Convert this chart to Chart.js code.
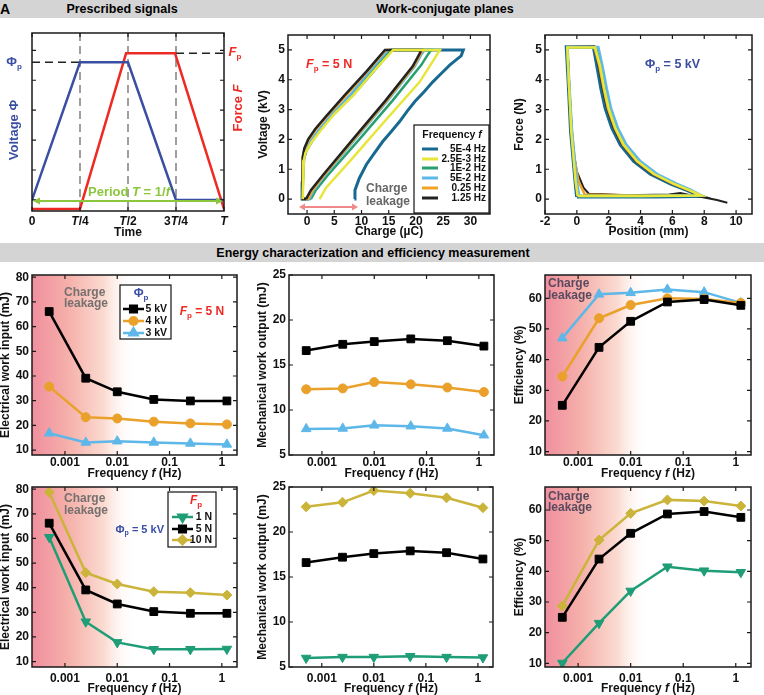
<!DOCTYPE html>
<html lang="en">
<head>
<meta charset="utf-8">
<title>Work-conjugate planes and efficiency</title>
<script src="https://cdn.jsdelivr.net/npm/chart.js@4.4.1/dist/chart.umd.min.js"></script>
<style>
  body { margin: 0; width: 764px; height: 695px; position: relative; overflow: hidden; background: #fff;
         font-family: "Liberation Sans", Arial, sans-serif; }
  .bar { position: absolute; left: 0; width: 764px; background: #d4d4d4; font-weight: bold; font-size: 12.5px; }
  .bar span { position: absolute; top: 50%; transform: translate(-50%, -50%); white-space: nowrap; }
  .tag { position: absolute; left: 0; top: 1px; font: bold 14px "Liberation Sans", Arial, sans-serif; }
  canvas { position: absolute; }
</style>
</head>
<body>
<div class="bar" style="top:0;height:18px"><span style="left:122px">Prescribed signals</span><span style="left:445px">Work-conjugate planes</span></div>
<div class="tag">A</div>
<div class="bar" style="top:243px;height:19px"><span style="left:373px">Energy characterization and efficiency measurement</span></div>
<script>
// ---------- data ----------
// A: prescribed signals over one period (time in units of T, amplitude in tick steps)
const sigTime = [0, 0.25, 0.5, 0.75, 1];
const voltageSig = [0.0, 4.6, 4.6, 0.0, 0.0];
const forceTime = [0, 0.25, 0.49, 0.745, 1];
const forceSig = [-0.3, -0.3, 4.9, 4.9, -0.3];
const timeTicks = [0, 0.25, 0.5, 0.75, 1];
const timeLabels = [[['0', '']], [['T', 'i'], ['/4', '']], [['T', 'i'], ['/2', '']], [['3', ''], ['T', 'i'], ['/4', '']], [['T', 'i']]];

// B: charge (uC) vs voltage (kV), Fp = 5 N
const freqNames = ['5E-4 Hz', '2.5E-3 Hz', '1E-2 Hz', '5E-2 Hz', '0.25 Hz', '1.25 Hz'];
const freqColors = ['#17698f', '#e8e63a', '#27a06e', '#5cb8e9', '#f2a227', '#222222'];
const qv_5e4 = [[8.7,0],[8.8,0.3],[9.6,0.7],[10.9,1.16],[12.4,1.55],[13.9,1.93],[15.4,2.25],[17.0,2.6],[18.4,2.95],[19.8,3.27],[21.5,3.6],[23.1,3.93],[24.6,4.2],[26.2,4.49],[27.6,4.7],[28.3,4.8],[28.7,5.0],[15.6,5.0],[12.1,4.27],[8.4,3.49],[4.7,2.82],[2.2,2.3],[0.9,1.95],[-0.2,1.6],[-0.6,1.35],[-0.8,0.6],[-0.9,0],[0.3,0]];
const qv_25e3 = [[2.3,0],[3.5,0.38],[8.4,1.38],[14.5,2.66],[20.7,3.93],[23.4,4.71],[24.4,5.0],[15.8,5.0],[12.3,4.3],[8.6,3.5],[5.0,2.85],[2.5,2.3],[0.8,1.9],[-0.3,1.55],[-0.6,1.3],[-0.7,0.5],[-0.8,0]];
const qv_1e2 = [[0.7,0],[1.6,0.3],[3.8,0.8],[9.6,2.0],[15.7,3.3],[21.0,4.5],[22.2,4.85],[22.8,5.0],[15.2,5.0],[11.8,4.3],[8.3,3.5],[4.6,2.82],[2.1,2.25],[0.6,1.9],[-0.4,1.55],[-0.7,1.3],[-0.8,0.5],[-0.9,0],[0.7,0]];
const qv_5e2 = [[0.4,0],[1.2,0.3],[3.3,0.8],[8.8,2.0],[14.8,3.3],[19.8,4.45],[21.0,4.85],[21.6,5.0],[14.9,5.0],[11.6,4.3],[8.0,3.5],[4.4,2.82],[1.9,2.25],[0.5,1.9],[-0.4,1.55],[-0.7,1.3],[-0.8,0.5],[-0.9,0],[0.4,0]];
const qv_025 = [[0.2,0],[1.0,0.3],[3.1,0.8],[8.6,2.0],[14.6,3.3],[19.6,4.45],[20.8,4.85],[21.3,5.0],[14.5,5.0],[11.2,4.3],[7.3,3.5],[3.8,2.8],[1.6,2.33],[0.3,1.98],[-0.5,1.68],[-0.8,1.4],[-0.8,0.5],[-0.8,0],[0.2,0]];
const qv_125 = [[-0.2,0],[0.7,0.3],[2.9,0.8],[8.4,2.0],[14.4,3.3],[19.4,4.45],[20.6,4.85],[21.0,5.0],[14.3,5.0],[11.0,4.3],[7.0,3.5],[3.6,2.8],[1.5,2.35],[0.2,2.0],[-0.5,1.7],[-0.8,1.4],[-0.8,0.6],[-0.8,0],[-0.2,0]];

// C: position (mm) vs force (N), Phi_p = 5 kV
const fx_5e4 = [[0.0,0.08],[-0.1,0.6],[-0.38,2.27],[-0.53,3.93],[-0.65,5.1],[1.05,5.1],[1.26,4.49],[1.52,3.71],[1.79,3.04],[2.21,2.38],[2.74,1.82],[3.58,1.27],[4.63,0.84],[5.9,0.51],[6.95,0.29],[7.8,0.1],[5.0,0.08],[2.0,0.08],[0.0,0.08]];
const fx_25e3 = [[0.05,0.1],[-0.08,0.6],[-0.35,2.27],[-0.5,3.93],[-0.6,5.08],[1.15,5.08],[1.45,4.49],[1.72,3.71],[2.0,3.04],[2.42,2.38],[2.95,1.82],[3.8,1.27],[4.85,0.84],[6.1,0.51],[7.1,0.29],[7.8,0.12],[4.0,0.1],[0.05,0.1]];
const fx_1e2 = [[0.1,0.1],[-0.05,0.6],[-0.33,2.27],[-0.5,3.93],[-0.6,5.08],[1.2,5.08],[1.52,4.49],[1.8,3.71],[2.07,3.04],[2.5,2.38],[3.03,1.82],[3.9,1.27],[4.95,0.84],[6.2,0.51],[7.15,0.29],[7.8,0.12],[4.0,0.1],[0.1,0.1]];
const fx_5e2 = [[0.15,0.1],[0.0,0.6],[-0.3,2.27],[-0.48,3.93],[-0.58,5.1],[1.35,5.1],[1.6,4.49],[1.88,3.71],[2.15,3.04],[2.58,2.38],[3.12,1.82],[4.0,1.27],[5.05,0.84],[6.3,0.51],[7.2,0.3],[7.8,0.12],[4.0,0.1],[0.15,0.1]];
const fx_025 = [[0.5,0.15],[0.1,0.6],[-0.15,1.4],[-0.35,2.5],[-0.5,3.9],[-0.6,5.1],[1.1,5.1],[1.4,4.49],[1.68,3.71],[1.95,3.04],[2.38,2.38],[2.9,1.82],[3.75,1.27],[4.8,0.84],[6.05,0.51],[7.05,0.29],[7.8,0.12],[4.0,0.12],[0.5,0.15]];
const fx_125 = [[9.45,-0.12],[8.8,-0.03],[8.0,0.05],[7.0,0.15],[6.5,0.2],[5.8,0.15],[3.0,0.13],[1.5,0.17],[0.75,0.18],[0.42,0.38],[0.0,0.93],[-0.25,1.71],[-0.42,2.82],[-0.53,4.49],[-0.6,5.1],[1.1,5.12],[1.35,4.49],[1.62,3.71],[1.9,3.04],[2.32,2.38],[2.85,1.82],[3.7,1.27],[4.75,0.84],[6.0,0.51],[7.0,0.29],[7.8,0.1],[8.4,0.02]];

// D-I: energies vs driving frequency
const freqs = [5e-4, 2.5e-3, 1e-2, 5e-2, 0.25, 1.25];
const freqTicks = [0.001, 0.01, 0.1, 1];
const freqLabels = ['0.001', '0.01', '0.1', '1'];

// Fp = 5 N, peak voltage varied
const elecIn_5kV = [66.1, 39.1, 33.6, 30.5, 29.9, 29.9];
const elecIn_4kV = [35.7, 23.3, 22.8, 21.5, 20.8, 20.4];
const elecIn_3kV = [16.8, 13.1, 13.6, 13.1, 12.7, 12.3];
const mechOut_5kV = [16.6, 17.3, 17.6, 17.9, 17.7, 17.1];
const mechOut_4kV = [12.3, 12.4, 13.1, 12.85, 12.5, 12.0];
const mechOut_3kV = [7.9, 7.95, 8.3, 8.2, 7.95, 7.2];
const eff_5kV = [25.1, 44.0, 52.5, 58.8, 59.6, 57.7];
const eff_4kV = [34.5, 53.5, 57.8, 60.0, 59.8, 58.5];
const eff_3kV = [47.0, 61.3, 61.8, 62.9, 62.0, 58.5];

// Phi_p = 5 kV, peak force varied
const elecIn_1N = [60.5, 26.2, 17.8, 15.0, 15.0, 15.1];
const elecIn_5N = [66.2, 39.1, 33.4, 30.3, 29.6, 29.6];
const elecIn_10N = [78.8, 46.1, 41.5, 38.4, 38.0, 37.0];
const mechOut_1N = [6.0, 6.1, 6.1, 6.2, 6.1, 6.05];
const mechOut_5N = [16.6, 17.2, 17.6, 17.9, 17.7, 17.0];
const mechOut_10N = [22.8, 23.3, 24.6, 24.3, 23.8, 22.7];
const eff_1N = [10.1, 23.1, 33.6, 41.5, 40.2, 39.7];
const eff_5N = [25.0, 44.0, 52.4, 58.7, 59.5, 57.6];
const eff_10N = [28.7, 50.2, 58.9, 63.3, 62.9, 61.3];

// ---------- styles ----------
const FONT = '"Liberation Sans", Arial, Helvetica, sans-serif';
const BLUE = '#3a4ea2', RED = '#ee2a24', GREEN = '#8cc63f';
const ST = {
  kv5: { color: '#000000', shape: 'rect', r: 5.5 },
  kv4: { color: '#eaa12b', shape: 'circle', r: 4.5 },
  kv3: { color: '#5db7e8', shape: 'triangle', r: 5.5 },
  n1: { color: '#1f9d76', shape: 'triangle', rot: 180, r: 5.5 },
  n5: { color: '#000000', shape: 'rect', r: 5.5 },
  n10: { color: '#cbb43a', shape: 'rectRot', r: 5 }
};
const LOG_MIN = Math.pow(10, -3.63), LOG_MAX = Math.pow(10, 0.29);
const LEAK_END = 0.022;

// ---------- helpers ----------
function rich(c, parts, x, y, o) {
  o = o || {};
  const size = o.size || 12;
  const fontOf = f => (f.includes('i') ? 'italic ' : '') + 'bold ' + (f.includes('s') ? Math.round(size * 0.65) : size) + 'px ' + FONT;
  let w = 0;
  parts.forEach(p => { c.font = fontOf(p[1] || ''); w += c.measureText(p[0]).width; });
  c.save();
  c.translate(x, y);
  if (o.rot) c.rotate(o.rot);
  let cx = o.align === 'right' ? -w : o.align === 'left' ? 0 : -w / 2;
  c.fillStyle = o.color || '#111';
  c.textAlign = 'left';
  c.textBaseline = 'middle';
  parts.forEach(p => {
    const f = p[1] || '';
    c.font = fontOf(f);
    c.fillText(p[0], cx, f.includes('s') ? size * 0.32 : 0);
    cx += c.measureText(p[0]).width;
  });
  c.restore();
}
const asParts = l => (typeof l === 'string' ? [[l, '']] : l);

function seriesDs(vals, st) {
  return {
    data: freqs.map((f, i) => ({ x: f, y: vals[i] })),
    borderColor: st.color, backgroundColor: st.color,
    pointBackgroundColor: st.color, pointBorderColor: st.color, pointBorderWidth: 1,
    pointStyle: st.shape, pointRotation: st.rot || 0, pointRadius: st.r, borderWidth: 2.5
  };
}
function curveDs(pts, color, w, order) {
  return { data: pts.map(p => ({ x: p[0], y: p[1] })), borderColor: color, borderWidth: w, pointRadius: 0, order: order };
}

function leakage(c, P) {
  const x1 = P.X(LEAK_END);
  const g = c.createLinearGradient(P.l, 0, x1, 0);
  g.addColorStop(0, '#f08f9e');
  g.addColorStop(0.35, '#f5b0aa');
  g.addColorStop(0.7, '#fbdbd1');
  g.addColorStop(1, 'rgba(255,255,255,0)');
  c.fillStyle = g;
  c.fillRect(P.l, P.t, x1 - P.l, P.b - P.t);
}
function leakText(c, x, y1, y2, color) {
  rich(c, [['Charge', '']], x, y1, { size: 12, align: 'left', color: color });
  rich(c, [['leakage', '']], x, y2, { size: 12, align: 'left', color: color });
}

function drawLegend(c, L) {
  const [x1, y1, x2, y2] = L.box;
  c.save();
  c.fillStyle = '#fff';
  c.fillRect(x1, y1, x2 - x1, y2 - y1);
  c.strokeStyle = '#111';
  c.lineWidth = 1.2;
  c.strokeRect(x1, y1, x2 - x1, y2 - y1);
  rich(c, L.title, L.titleX, L.titleY, { size: L.titleSize, color: L.titleColor });
  L.rows.forEach(r => {
    c.strokeStyle = r.color;
    c.lineWidth = L.lw;
    c.beginPath();
    c.moveTo(L.lineX[0], r.y);
    c.lineTo(L.lineX[1], r.y);
    c.stroke();
    if (r.st) {
      c.fillStyle = r.color;
      Chart.helpers.drawPoint(c, { pointStyle: r.st.shape, radius: r.st.r * 0.85, rotation: r.st.rot || 0, borderWidth: 1 },
        (L.lineX[0] + L.lineX[1]) / 2, r.y);
    }
    rich(c, [[r.label, '']], L.labelX, r.y, { size: L.size, align: 'right' });
  });
  c.restore();
}

function drawAxes(c, P, p) {
  c.save();
  c.strokeStyle = '#1a1a1a';
  c.lineWidth = 1.2;
  c.beginPath();
  p.xTicks.forEach(v => { const x = P.X(v); c.moveTo(x, P.b); c.lineTo(x, P.b - 4); c.moveTo(x, P.t); c.lineTo(x, P.t + 4); });
  p.yTicks.forEach(v => { const y = P.Y(v); c.moveTo(P.l, y); c.lineTo(P.l + 4, y); c.moveTo(P.r, y); c.lineTo(P.r - 4, y); });
  c.stroke();
  c.lineWidth = 1.5;
  c.strokeRect(P.l, P.t, P.r - P.l, P.b - P.t);
  c.restore();
  if (p.xLabels) p.xTicks.forEach((v, i) => rich(c, asParts(p.xLabels[i]), P.X(v), p.xLabelY, { size: 12 }));
  if (p.yLabels) p.yTicks.forEach((v, i) => rich(c, asParts(p.yLabels[i]), P.l - 3, P.Y(v), { size: 12, align: 'right' }));
  if (p.xTitle) rich(c, p.xTitle, (P.l + P.r) / 2, p.xTitleY, { size: 12 });
  if (p.yTitle) rich(c, p.yTitle, p.yTitleX, (P.t + P.b) / 2, { size: 12, rot: -Math.PI / 2 });
}

function makePanel(p) {
  const [bx, by, bw, bh] = p.box;
  const [al, at, ar, ab] = p.area;
  const cv = document.createElement('canvas');
  cv.width = bw;
  cv.height = bh;
  cv.style.left = bx + 'px';
  cv.style.top = by + 'px';
  document.body.appendChild(cv);
  const frame = ch => ({
    X: v => ch.scales.x.getPixelForValue(v) + bx,
    Y: v => ch.scales.y.getPixelForValue(v) + by,
    l: ch.chartArea.left + bx, r: ch.chartArea.right + bx,
    t: ch.chartArea.top + by, b: ch.chartArea.bottom + by
  });
  const axisOff = { display: false, drawTicks: false };
  new Chart(cv, {
    type: 'line',
    data: { datasets: p.datasets },
    options: {
      responsive: false, animation: false, devicePixelRatio: 1,
      layout: { padding: { left: 0, top: at - by, right: bx + bw - ar, bottom: 0 } },
      plugins: { legend: { display: false }, tooltip: { enabled: false } },
      elements: { line: { tension: 0 } },
      scales: {
        x: {
          type: p.xType || 'linear', min: p.xMin, max: p.xMax,
          ticks: { display: false }, grid: axisOff, border: { display: false },
          afterFit: s => { s.height = by + bh - ab; s.paddingLeft = 0; s.paddingRight = 0; }
        },
        y: {
          type: 'linear', min: p.yMin, max: p.yMax,
          ticks: { display: false }, grid: axisOff, border: { display: false },
          afterFit: s => { s.width = al - bx; s.paddingTop = 0; s.paddingBottom = 0; }
        }
      }
    },
    plugins: [{
      id: 'deco',
      beforeDatasetsDraw(ch) {
        if (!p.under) return;
        const c = ch.ctx;
        c.save(); c.translate(-bx, -by); p.under(c, frame(ch)); c.restore();
      },
      afterDraw(ch) {
        const c = ch.ctx;
        c.save(); c.translate(-bx, -by);
        const P = frame(ch);
        drawAxes(c, P, p);
        if (p.over) p.over(c, P);
        c.restore();
      }
    }]
  });
}

const R1 = [18, 225], R2 = [262, 218], R3 = [480, 215];
const C1 = [0, 255], C2 = [255, 250], C3 = [505, 259];
const box = (C, R) => [C[0], R[0], C[1], R[1]];
const freqTitle = [['Frequency ', ''], ['f', 'i'], [' (Hz)', '']];
const num = a => a.map(String);

// ---------- A: prescribed signals ----------
makePanel({
  box: box(C1, R1), area: [32, 33, 224, 211],
  xMin: 0, xMax: 1, yMin: -0.37, yMax: 5.58,
  xTicks: timeTicks, yTicks: [0, 1, 2, 3, 4, 5],
  xLabels: timeLabels, xLabelY: 222,
  xTitle: [['Time', '']], xTitleY: 233,
  datasets: [
    { data: sigTime.map((t, i) => ({ x: t, y: voltageSig[i] })), borderColor: BLUE, borderWidth: 2.5, pointRadius: 0, order: 1 },
    { data: forceTime.map((t, i) => ({ x: t, y: forceSig[i] })), borderColor: RED, borderWidth: 2.5, pointRadius: 0, order: 2 }
  ],
  under(c, P) {
    c.save();
    c.setLineDash([8, 5]);
    c.lineWidth = 1.5;
    c.strokeStyle = '#808080';
    [0.25, 0.5, 0.75].forEach(v => { c.beginPath(); c.moveTo(P.X(v), P.t); c.lineTo(P.X(v), P.b); c.stroke(); });
    c.strokeStyle = '#222';
    c.beginPath(); c.moveTo(P.l, P.Y(voltageSig[1])); c.lineTo(P.X(0.25), P.Y(voltageSig[1])); c.stroke();
    c.beginPath(); c.moveTo(P.X(0.75), P.Y(forceSig[2])); c.lineTo(P.r, P.Y(forceSig[2])); c.stroke();
    c.restore();
  },
  over(c, P) {
    // period arrow
    const y = 201, x1 = P.l + 1, x2 = P.r - 1;
    c.save();
    c.strokeStyle = GREEN; c.fillStyle = GREEN; c.lineWidth = 2;
    c.beginPath(); c.moveTo(x1 + 5, y); c.lineTo(x2 - 5, y); c.stroke();
    c.beginPath(); c.moveTo(x1, y); c.lineTo(x1 + 7, y - 3.5); c.lineTo(x1 + 7, y + 3.5); c.fill();
    c.beginPath(); c.moveTo(x2, y); c.lineTo(x2 - 7, y - 3.5); c.lineTo(x2 - 7, y + 3.5); c.fill();
    c.restore();
    rich(c, [['Period ', ''], ['T', 'i'], [' = 1/', ''], ['f', 'i']], 129, 192, { size: 13, color: GREEN });
    rich(c, [['Φ', ''], ['p', 's']], 14, P.Y(voltageSig[1]), { size: 13, color: BLUE });
    rich(c, [['F', 'i'], ['p', 's']], 235, P.Y(forceSig[2]) - 1, { size: 13, color: RED });
    rich(c, [['Voltage Φ', '']], 14, 130, { size: 13, color: BLUE, rot: -Math.PI / 2 });
    rich(c, [['Force ', ''], ['F', 'i']], 238, 108, { size: 13, color: RED, rot: -Math.PI / 2 });
  }
});

// ---------- B: charge-voltage plane ----------
const qvSets = [qv_5e4, qv_25e3, qv_1e2, qv_5e2, qv_025, qv_125];
const qvOrder = [6, 1, 5, 4, 3, 2];
makePanel({
  box: box(C2, R1), area: [288, 35, 490, 214],
  xMin: -3.5, xMax: 33.6, yMin: -0.5, yMax: 5.5,
  xTicks: [0, 5, 10, 15, 20, 25, 30], yTicks: [0, 1, 2, 3, 4, 5],
  xLabels: num([0, 5, 10, 15, 20, 25, 30]), yLabels: num([0, 1, 2, 3, 4, 5]), xLabelY: 222,
  xTitle: [['Charge (µC)', '']], xTitleY: 232, yTitle: [['Voltage (kV)', '']], yTitleX: 264,
  datasets: qvSets.map((d, i) => curveDs(d, freqColors[i], i === 0 ? 3 : 2.5, qvOrder[i])),
  over(c, P) {
    rich(c, [['F', 'i'], ['p', 's'], [' = 5 N', '']], 306, 65, { size: 12.5, color: RED, align: 'left' });
    leakText(c, 366, 189, 202, '#666');
    c.save();
    c.strokeStyle = '#f08a8a'; c.fillStyle = '#f08a8a'; c.lineWidth = 2;
    const y = 207, x1 = 299, x2 = 358;
    c.beginPath(); c.moveTo(x1 + 4, y); c.lineTo(x2 - 4, y); c.stroke();
    c.beginPath(); c.moveTo(x1, y); c.lineTo(x1 + 6, y - 3.5); c.lineTo(x1 + 6, y + 3.5); c.fill();
    c.beginPath(); c.moveTo(x2, y); c.lineTo(x2 - 6, y - 3.5); c.lineTo(x2 - 6, y + 3.5); c.fill();
    c.restore();
    const rowsY = [149, 159, 168, 178, 188, 198];
    drawLegend(c, {
      box: [414, 125, 489, 213], title: [['Frequency ', ''], ['f', 'i']], titleX: 452, titleY: 135, titleSize: 10.5, titleColor: '#111',
      lineX: [422, 438], labelX: 486, size: 10, lw: 3,
      rows: freqNames.map((n, i) => ({ label: n, color: freqColors[i], y: rowsY[i] }))
    });
  }
});

// ---------- C: force-position plane ----------
const fxSets = [fx_5e4, fx_25e3, fx_1e2, fx_5e2, fx_025, fx_125];
const fxOrder = [6, 1, 3, 2, 4, 5];
makePanel({
  box: box(C3, R1), area: [545, 35, 752, 214],
  xMin: -2, xMax: 11, yMin: -0.5, yMax: 5.5,
  xTicks: [-2, 0, 2, 4, 6, 8, 10], yTicks: [0, 1, 2, 3, 4, 5],
  xLabels: num([-2, 0, 2, 4, 6, 8, 10]), yLabels: num([0, 1, 2, 3, 4, 5]), xLabelY: 222,
  xTitle: [['Position (mm)', '']], xTitleY: 232, yTitle: [['Force (N)', '']], yTitleX: 520,
  datasets: fxSets.map((d, i) => curveDs(d, freqColors[i], i === 0 ? 3.5 : i === 5 ? 2 : 2.5, fxOrder[i])),
  over(c, P) {
    rich(c, [['Φ', ''], ['p', 's'], [' = 5 kV', '']], 645, 65, { size: 12.5, color: BLUE, align: 'left' });
  }
});

// ---------- D-F ----------
const rowCommon = (area, labelY, titleY) => ({
  xType: 'logarithmic', xMin: LOG_MIN, xMax: LOG_MAX,
  xTicks: freqTicks, xLabels: freqLabels, xLabelY: labelY, xTitle: freqTitle, xTitleY: titleY, area: area
});

makePanel(Object.assign(rowCommon([32, 275, 237, 455], 463, 474), {
  box: box(C1, R2), yMin: 8, yMax: 80.9,
  yTicks: [10, 20, 30, 40, 50, 60, 70, 80], yLabels: num([10, 20, 30, 40, 50, 60, 70, 80]),
  yTitle: [['Electrical work input (mJ)', '']], yTitleX: 6,
  datasets: [seriesDs(elecIn_5kV, ST.kv5), seriesDs(elecIn_4kV, ST.kv4), seriesDs(elecIn_3kV, ST.kv3)],
  under: leakage,
  over(c, P) {
    leakText(c, 64, 293, 304, '#76706f');
    drawLegend(c, {
      box: [120, 285, 171, 339], title: [['Φ', ''], ['p', 's']], titleX: 141, titleY: 294, titleSize: 12, titleColor: BLUE,
      lineX: [123, 144], labelX: 167, size: 10.5, lw: 2.5,
      rows: [
        { label: '5 kV', color: ST.kv5.color, st: ST.kv5, y: 309 },
        { label: '4 kV', color: ST.kv4.color, st: ST.kv4, y: 321 },
        { label: '3 kV', color: ST.kv3.color, st: ST.kv3, y: 333 }
      ]
    });
    rich(c, [['F', 'i'], ['p', 's'], [' = 5 N', '']], 202, 312, { size: 12, color: RED });
  }
}));

makePanel(Object.assign(rowCommon([289, 275, 494, 455], 463, 474), {
  box: box(C2, R2), yMin: 5, yMax: 25,
  yTicks: [5, 10, 15, 20, 25], yLabels: num([5, 10, 15, 20, 25]),
  yTitle: [['Mechanical work output (mJ)', '']], yTitleX: 263,
  datasets: [seriesDs(mechOut_5kV, ST.kv5), seriesDs(mechOut_4kV, ST.kv4), seriesDs(mechOut_3kV, ST.kv3)]
}));

makePanel(Object.assign(rowCommon([545, 275, 751, 455], 463, 474), {
  box: box(C3, R2), yMin: 8.9, yMax: 67.6,
  yTicks: [10, 20, 30, 40, 50, 60], yLabels: num([10, 20, 30, 40, 50, 60]),
  yTitle: [['Efficiency (%)', '']], yTitleX: 520,
  datasets: [seriesDs(eff_5kV, ST.kv5), seriesDs(eff_4kV, ST.kv4), seriesDs(eff_3kV, ST.kv3)],
  under: leakage,
  over(c) { leakText(c, 548, 284, 296, '#5a4a60'); }
}));

// ---------- G-I ----------
makePanel(Object.assign(rowCommon([32, 487, 237, 667], 679, 689), {
  box: box(C1, R3), yMin: 7.8, yMax: 80.9,
  yTicks: [10, 20, 30, 40, 50, 60, 70, 80], yLabels: num([10, 20, 30, 40, 50, 60, 70, 80]),
  yTitle: [['Electrical work input (mJ)', '']], yTitleX: 6,
  datasets: [seriesDs(elecIn_1N, ST.n1), seriesDs(elecIn_5N, ST.n5), seriesDs(elecIn_10N, ST.n10)],
  under: leakage,
  over(c) {
    leakText(c, 64, 499, 511, '#76706f');
    drawLegend(c, {
      box: [168, 492, 216, 547], title: [['F', 'i'], ['p', 's']], titleX: 196, titleY: 501, titleSize: 12, titleColor: RED,
      lineX: [172, 193], labelX: 212, size: 10.5, lw: 2.5,
      rows: [
        { label: '1 N', color: ST.n1.color, st: ST.n1, y: 517 },
        { label: '5 N', color: ST.n5.color, st: ST.n5, y: 529 },
        { label: '10 N', color: ST.n10.color, st: ST.n10, y: 540 }
      ]
    });
    rich(c, [['Φ', ''], ['p', 's'], [' = 5 kV', '']], 164, 530, { size: 11, color: BLUE, align: 'right' });
  }
}));

makePanel(Object.assign(rowCommon([289, 487, 493, 667], 679, 689), {
  box: box(C2, R3), yMin: 5, yMax: 25,
  yTicks: [5, 10, 15, 20, 25], yLabels: num([5, 10, 15, 20, 25]),
  yTitle: [['Mechanical work output (mJ)', '']], yTitleX: 263,
  datasets: [seriesDs(mechOut_1N, ST.n1), seriesDs(mechOut_5N, ST.n5), seriesDs(mechOut_10N, ST.n10)]
}));

makePanel(Object.assign(rowCommon([545, 487, 751, 667], 679, 689), {
  box: box(C3, R3), yMin: 8.8, yMax: 67.5,
  yTicks: [10, 20, 30, 40, 50, 60], yLabels: num([10, 20, 30, 40, 50, 60]),
  yTitle: [['Efficiency (%)', '']], yTitleX: 520,
  datasets: [seriesDs(eff_1N, ST.n1), seriesDs(eff_5N, ST.n5), seriesDs(eff_10N, ST.n10)],
  under: leakage,
  over(c) { leakText(c, 548, 497, 508, '#5a4a60'); }
}));
</script>
</body>
</html>
